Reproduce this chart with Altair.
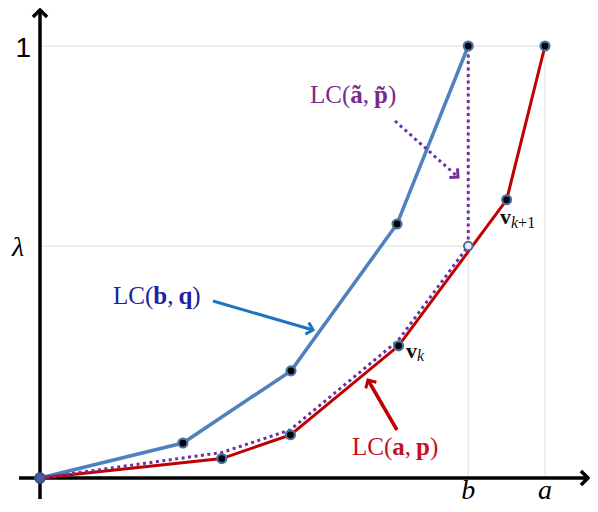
import math
import altair as alt
import pandas as pd

# ---------------- data (x: a = 1, y: top level = 1) ----------------
blue_x = [0.0, 0.283, 0.497, 0.707, 0.848]
blue_y = [0.0, 0.081, 0.248, 0.588, 1.0]
red_x = [0.0, 0.360, 0.496, 0.710, 0.924, 1.0]
red_y = [0.0, 0.045, 0.100, 0.306, 0.644, 1.0]
purple_x = [0.0, 0.360, 0.495, 0.709, 0.848]
purple_y = [0.0, 0.059, 0.111, 0.318, 0.537]
a_val = 1.0
b_val = 0.848
lam = 0.537

# ---------------- geometry helpers ----------------
W, H = 582, 496
OX, OY, SX, SY = 32, 470, 505, 432  # data origin inside the view, px per unit


def dx(p):
    return (p - 8 - OX) / SX


def dy(p):
    return (OY - (p - 8)) / SY


XD = [dx(8), dx(8 + W)]
YD = [dy(8 + H), dy(8)]
xs = alt.Scale(domain=XD, nice=False, zero=False)
ys = alt.Scale(domain=YD, nice=False, zero=False)


def X(f):
    return alt.X(f"{f}:Q", scale=xs, axis=None)


def Y(f):
    return alt.Y(f"{f}:Q", scale=ys, axis=None)


def X2(f):
    return alt.X2(f"{f}:Q")


def Y2(f):
    return alt.Y2(f"{f}:Q")


CHEVRON = "M-1,-1L0,0L-1,1"

# ---------------- grid ----------------
grid_df = pd.DataFrame({
    "x": [0.0, 0.0, b_val, a_val],
    "y": [1.0, lam, 0.0, 0.0],
    "x2": [a_val, b_val, b_val, a_val],
    "y2": [1.0, lam, 1.0, 1.0],
})
grid = alt.Chart(grid_df).mark_rule(color="#dddddd", strokeWidth=1).encode(
    x=X("x"), y=Y("y"), x2=X2("x2"), y2=Y2("y2"))

# ---------------- axes ----------------
ax_df = pd.DataFrame({
    "x": [dx(19), 0.0],
    "y": [0.0, dy(499)],
    "x2": [dx(588), 0.0],
    "y2": [0.0, dy(10)],
})
axes = alt.Chart(ax_df).mark_rule(color="black", strokeWidth=3.5).encode(
    x=X("x"), y=Y("y"), x2=X2("x2"), y2=Y2("y2"))
tips_df = pd.DataFrame({"x": [dx(588), 0.0], "y": [0.0, dy(10)], "ang": [0, 270]})
tips = alt.Chart(tips_df).mark_point(
    shape=CHEVRON, filled=False, stroke="black", strokeWidth=3.5, size=200,
    opacity=1, strokeJoin="miter").encode(
    x=X("x"), y=Y("y"), angle=alt.Angle("ang:Q", scale=None))

# ---------------- curves ----------------
blue_df = pd.DataFrame({"x": blue_x, "y": blue_y})
red_df = pd.DataFrame({"x": red_x, "y": red_y})
pur_df = pd.DataFrame({"x": purple_x, "y": purple_y})

blue_line = alt.Chart(blue_df).mark_line(color="#4f81bd", strokeWidth=3.5).encode(
    x=X("x"), y=Y("y"))
red_line = alt.Chart(red_df).mark_line(color="#c00000", strokeWidth=3).encode(
    x=X("x"), y=Y("y"))
pur_line = alt.Chart(pur_df).mark_line(
    color="#7030a0", strokeWidth=3, strokeDash=[3, 3.5]).encode(x=X("x"), y=Y("y"))
pur_vert = alt.Chart(pd.DataFrame({"x": [b_val], "y": [lam], "y2": [1.0]})).mark_rule(
    color="#7030a0", strokeWidth=3, strokeDash=[3, 3.5]).encode(
    x=X("x"), y=Y("y"), y2=Y2("y2"))

# ---------------- points ----------------
pts_df = pd.DataFrame({"x": blue_x[1:] + red_x[1:], "y": blue_y[1:] + red_y[1:]})
pts = alt.Chart(pts_df).mark_point(
    shape="circle", filled=True, fill="black", stroke="#4a72a0", strokeWidth=2.2,
    size=80, opacity=1).encode(x=X("x"), y=Y("y"))
hollow = alt.Chart(pd.DataFrame({"x": [b_val], "y": [lam]})).mark_point(
    shape="circle", filled=True, fill="#ece9f5", stroke="#4d6d96", strokeWidth=2,
    size=72, opacity=1).encode(x=X("x"), y=Y("y"))
origin = alt.Chart(pd.DataFrame({"x": [0.0], "y": [0.0]})).mark_point(
    shape="circle", filled=True, fill="#5058a8", stroke="#34568a", strokeWidth=2.2,
    size=90, opacity=1).encode(x=X("x"), y=Y("y"))

# ---------------- annotation arrows ----------------
arr_x1 = [dx(213), dx(395), dx(397)]
arr_y1 = [dy(301), dy(121), dy(430)]
arr_x2 = [dx(313), dx(458), dx(368)]
arr_y2 = [dy(330), dy(177), dy(380)]
arr_col = ["#1f74c0", "#7030a0", "#c00000"]
arr_ang = [math.degrees(math.atan2(-(y2 - y1) * SY, (x2 - x1) * SX)) % 360
           for x1, y1, x2, y2 in zip(arr_x1, arr_y1, arr_x2, arr_y2)]
arr_df = pd.DataFrame({"x": arr_x1, "y": arr_y1, "x2": arr_x2, "y2": arr_y2,
                       "c": arr_col, "ang": arr_ang, "k": ["b", "p", "r"]})


def arrow_line(k, **kw):
    return alt.Chart(arr_df).transform_filter(alt.datum.k == k).mark_rule(**kw).encode(
        x=X("x"), y=Y("y"), x2=X2("x2"), y2=Y2("y2"),
        color=alt.Color("c:N", scale=None))


arrows = [
    arrow_line("b", strokeWidth=3),
    arrow_line("p", strokeWidth=3, strokeDash=[3, 3.5]),
    arrow_line("r", strokeWidth=3.5),
]
heads = alt.Chart(arr_df).mark_point(
    shape=CHEVRON, filled=False, strokeWidth=3, size=150, opacity=1,
    strokeJoin="miter").encode(
    x=X("x2"), y=Y("y2"), color=alt.Color("c:N", scale=None),
    angle=alt.Angle("ang:Q", scale=None))

# ---------------- texts ----------------
EM = {
    "reg": {"L": .611, "C": .667, "(": .333, ")": .333, ",": .25, " ": .2, "+": .564, "1": .5},
    "bold": {"a": .5, "b": .556, "p": .556, "q": .556, "v": .5, "ã": .5, "p\u0303": .556},
    "ital": {"k": .444},
}

rows = []


def lay(pieces, x0, base, size, color):
    cx = x0
    for txt, st, sz, shift in pieces:
        s = sz or size
        rows.append({"text": txt, "x": dx(cx), "y": dy(base + shift),
                     "color": color, "size": s, "style": st})
        cx += sum(EM[st].get(ch, .5) for ch in ([txt] if txt in EM[st] else txt)) * s


lay([("LC(", "reg", 0, 0), ("b", "bold", 0, 0), (",", "reg", 0, 0),
     (" ", "reg", 0, 0), ("q", "bold", 0, 0), (")", "reg", 0, 0)],
    113, 304, 25, "#2222a0")
lay([("LC(", "reg", 0, 0), ("ã", "bold", 0, 0), (",", "reg", 0, 0),
     (" ", "reg", 0, 0), ("p\u0303", "bold", 0, 0), (")", "reg", 0, 0)],
    310, 103, 25, "#7a2a8c")
lay([("LC(", "reg", 0, 0), ("a", "bold", 0, 0), (",", "reg", 0, 0),
     (" ", "reg", 0, 0), ("p", "bold", 0, 0), (")", "reg", 0, 0)],
    352, 455, 25, "#c4101c")
lay([("v", "bold", 0, 0), ("k", "ital", 16, 3)], 406, 358, 22, "#111111")
lay([("v", "bold", 0, 0), ("k", "ital", 16, 4), ("+1", "reg", 16, 4)],
    500, 224, 22, "#111111")

text_df = pd.DataFrame(rows)
tick_df = pd.DataFrame({
    "text": ["λ", "b", "a"],
    "x": [dx(18), b_val, a_val],
    "y": [dy(256), dy(499), dy(499)],
})
one_df = pd.DataFrame({"text": ["1"], "x": [dx(31)], "y": [dy(57)]})


def text_layer(style, **mk):
    return alt.Chart(text_df).transform_filter(alt.datum.style == style).mark_text(
        baseline="alphabetic", align="left", font="Liberation Serif", **mk).encode(
        x=X("x"), y=Y("y"), text="text:N",
        color=alt.Color("color:N", scale=None), size=alt.Size("size:Q", scale=None))


texts = [
    text_layer("reg"),
    text_layer("bold", fontWeight="bold"),
    text_layer("ital", fontStyle="italic"),
]
ticks = alt.Chart(tick_df).mark_text(
    baseline="alphabetic", align="center", font="Liberation Serif",
    fontStyle="italic", fontSize=28, color="black").encode(
    x=X("x"), y=Y("y"), text="text:N")
one = alt.Chart(one_df).mark_text(
    baseline="alphabetic", align="right", font="Liberation Sans",
    fontSize=28, color="black").encode(x=X("x"), y=Y("y"), text="text:N")

chart = alt.layer(
    grid, axes, tips, blue_line, red_line, pur_line, pur_vert,
    origin, pts, hollow, *arrows, heads, *texts, ticks, one,
).properties(
    width=W, height=H, padding=0,
    autosize=alt.AutoSizeParams(type="none"),
).configure_view(stroke=None)

chart.save("out.html", embed_options={"renderer": "svg", "actions": False})
